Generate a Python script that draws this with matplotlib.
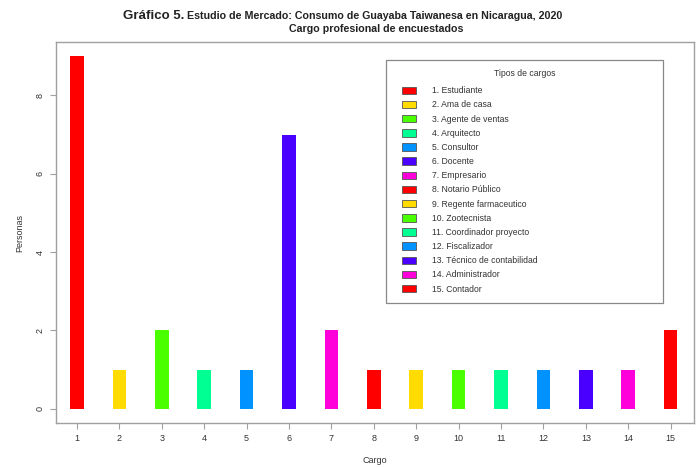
import matplotlib
matplotlib.use("Agg")
import matplotlib.pyplot as plt
from matplotlib.patches import Patch, Rectangle
from matplotlib.legend_handler import HandlerPatch

plt.rcParams['font.family'] = ['Liberation Sans', 'DejaVu Sans']

cargos = list(range(1, 16))
personas = [9, 1, 2, 1, 1, 7, 2, 1, 1, 1, 1, 1, 1, 1, 2]
etiquetas = ["1. Estudiante", "2. Ama de casa", "3. Agente de ventas", "4. Arquitecto",
             "5. Consultor", "6. Docente", "7. Empresario", "8. Notario Público",
             "9. Regente farmaceutico", "10. Zootecnista", "11. Coordinador proyecto",
             "12. Fiscalizador", "13. Técnico de contabilidad", "14. Administrador",
             "15. Contador"]
paleta = ["#FF0000", "#FFDB00", "#49FF00", "#00FF92", "#0092FF", "#4900FF", "#FF00DB"]
colores = [paleta[i % len(paleta)] for i in range(len(cargos))]
yticks = [0, 2, 4, 6, 8]

W, H = 700, 468
fig = plt.figure(figsize=(7, 4.68), dpi=100)
ax = fig.add_axes([55.7 / W, 1 - 423 / H, (694 - 55.7) / W, (423 - 42) / H])

ax.bar(cargos, personas, width=0.32, color=colores, edgecolor='none')
ax.set_xlim(0.5, 15.55)
ax.set_ylim(-0.36, 9.36)
ax.set_xticks(cargos)
ax.set_xticklabels([str(c) for c in cargos])
ax.set_yticks(yticks)
ax.set_yticklabels([str(v) for v in yticks], rotation=90, va='center')
for s in ax.spines.values():
    s.set_color('#A0A0A0')
    s.set_linewidth(1.0)
ax.tick_params(axis='both', colors='#A0A0A0', labelcolor='#333333', labelsize=6.5,
               length=4, width=0.8, pad=4)
ax.set_xlabel("Cargo", fontsize=6.5, color='#333333', labelpad=9)
ax.set_ylabel("Personas", fontsize=6.5, color='#333333', labelpad=8)


def offset_rect(legend, orig_handle, xdescent, ydescent, width, height, fontsize):
    off = 5.0
    return Rectangle((-xdescent + off, -ydescent), width - off, height)


handles = [Patch(facecolor=c, edgecolor='#555555', linewidth=0.6) for c in colores]
leg = fig.legend(handles, etiquetas, loc='upper left',
                 bbox_to_anchor=(386 / W, 1 - 303 / H, (663 - 386) / W, (303 - 60) / H),
                 mode='expand', borderaxespad=0, fontsize=6.2, title="Tipos de cargos",
                 title_fontsize=6.2, handlelength=2.4, handleheight=0.95,
                 handletextpad=1.86, labelspacing=0.6, borderpad=1.05,
                 fancybox=False, framealpha=1, edgecolor='#888888',
                 labelcolor='#333333',
                 handler_map={Patch: HandlerPatch(patch_func=offset_rect)})
leg.get_frame().set_linewidth(0.9)
leg.get_title().set_color('#333333')
leg._legend_box.align = "center"
leg._legend_box.sep = leg._legend_box.sep + 2.2

t1 = fig.text(123 / W, 1 - 19 / H, "Gráfico 5.", fontsize=9.5, fontweight='bold',
              ha='left', va='baseline', color='#222222')
fig.canvas.draw()
bb = t1.get_window_extent()
fig.text(bb.x1 / W + 3 / W, 1 - 19 / H,
         "Estudio de Mercado: Consumo de Guayaba Taiwanesa en Nicaragua, 2020",
         fontsize=7.7, fontweight='bold', ha='left', va='baseline', color='#222222')
fig.text(376 / W, 1 - 29 / H, "Cargo profesional de encuestados",
         fontsize=7.65, fontweight='bold', ha='center', va='center', color='#222222')

fig.savefig("out.png", dpi=100)
